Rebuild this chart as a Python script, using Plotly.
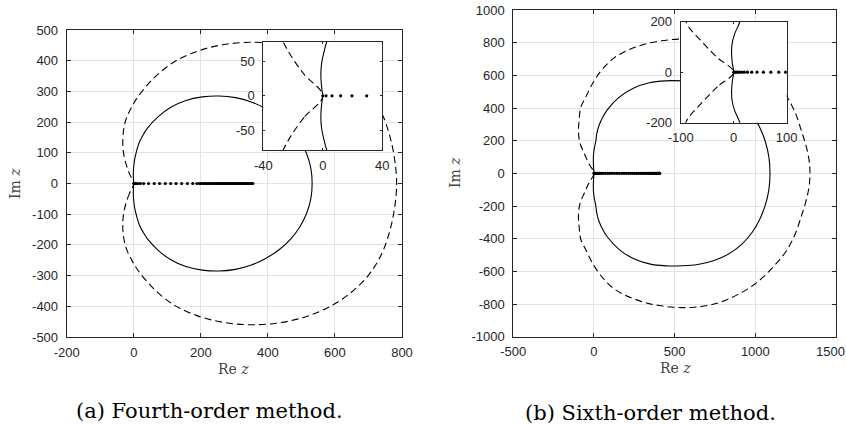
import plotly.graph_objects as go

# ---------------- data ----------------
# (a) Fourth-order method -- solid boundary, upper half (origin -> right end on real axis)
a_sol_up_x = [0, -0.6, -1.1, -1.3, -0.8, 0.6, 2.6, 5.0, 10.2, 17.6, 27.9, 40.3, 72.1, 110.5, 155.5,
              204.3, 254, 303.3, 350.6, 394.5, 434.3, 468.5, 496.0, 516.2, 528.3, 532]
a_sol_up_y = [0, 9, 20, 33, 47, 62, 78, 90.6, 113.7, 136.5, 158.3, 179.3, 216.8, 248.5, 270.6,
              282.1, 285, 279.7, 265.5, 243.3, 214.9, 180.0, 139.8, 95.4, 48.4, 0]
# solid boundary, lower half
a_sol_lo_x = [0, -0.6, -1.1, -1.3, -0.8, 0.6, 2.6, 5.0, 10.2, 17.6, 27.9, 40.3, 72.1, 110.5, 155.5,
              204.3, 254, 303.3, 350.6, 394.5, 434.3, 468.5, 496.0, 516.2, 528.3, 532]
a_sol_lo_y = [0, -9, -20, -33, -47, -62, -78, -90.6, -113.7, -136.5, -158.3, -179.3, -216.8, -248.5, -270.6,
              -282.1, -285, -279.7, -265.5, -243.3, -214.9, -180.0, -139.8, -95.4, -48.4, 0]
# dashed boundary, upper half
a_das_up_x = [0, -12.6, -23.3, -30.7, -32.8, -30.2, -22.2, -7.3, 11.0, 58.3, 117.5, 188.4, 265.3, 345,
              425.2, 504.0, 578.5, 645.2, 700.4, 739.9, 764.1, 778.3, 784]
a_das_up_y = [0, 31.3, 64.9, 100.7, 137.5, 175.0, 212.0, 246.6, 280.3, 341.6, 394.0, 430.4, 452.0, 460,
              455.0, 437.0, 404.4, 357.7, 298.3, 228.0, 152.5, 76.4, 0]
# dashed boundary, lower half
a_das_lo_x = [0, -12.6, -23.3, -30.7, -32.8, -30.2, -22.2, -7.3, 11.0, 58.3, 117.5, 188.4, 265.3, 345,
              425.2, 504.0, 578.5, 645.2, 700.4, 739.9, 764.1, 778.3, 784]
a_das_lo_y = [0, -31.3, -64.9, -100.7, -137.5, -175.0, -212.0, -246.6, -280.3, -341.6, -394.0, -430.4, -452.0, -460,
              -455.0, -437.0, -404.4, -357.7, -298.3, -228.0, -152.5, -76.4, 0]
# eigenvalues on the real axis
a_eig = [0, 2.2, 6.2, 12, 19.6, 29.5, 44, 61, 77, 94, 110, 126, 143, 160, 176, 188, 196, 201, 206,
         211, 216, 220, 225, 229, 234, 238, 242, 247, 251, 255, 259, 263, 267, 271, 275, 279, 283,
         287, 291, 295, 299, 303, 307, 311, 315, 319, 323, 327, 331, 335, 339, 343, 347, 351, 355]

# (b) Sixth-order method -- solid boundary
b_sol_up_x = [0, -2.6, -4.0, -3.2, 1.5, 11, 18, 32.3, 54.3, 82.3, 154.8, 244.0, 343.2, 445.2, 545,
              643.4, 739.9, 831.0, 912.0, 978.6, 1028.2, 1063.7, 1084.7, 1091]
b_sol_up_y = [0, 36, 75, 110, 150, 196, 246, 296, 343.6, 388.3, 465.0, 521.3, 554.4, 566.3, 566,
              558.4, 535.6, 495.4, 437.4, 363.8, 279.0, 188.8, 95.1, 0]
b_sol_lo_x = [0, -2.6, -4.0, -3.2, 1.5, 11, 18, 32.3, 54.3, 82.3, 154.8, 244.0, 343.2, 445.2, 545,
              643.4, 739.9, 831.0, 912.0, 978.6, 1028.2, 1063.7, 1084.7, 1091]
b_sol_lo_y = [0, -36, -75, -110, -150, -196, -246, -296, -343.6, -388.3, -465.0, -521.3, -554.4, -566.3, -566,
              -558.4, -535.6, -495.4, -437.4, -363.8, -279.0, -188.8, -95.1, 0]
# dashed boundary
b_das_up_x = [0, -30.5, -59.5, -88.0, -96.1, -91.4, -81.5, -50.1, -17.3, 21.8, 69.1, 125.0, 190.0, 259.5,
              330.7, 403.1, 475.7, 548.1, 620, 691.0, 760.3, 826.8, 890.2, 950.5, 1007.0, 1058.2, 1105.3,
              1149.6, 1189.9, 1222.9, 1250.4, 1271.6, 1291.0, 1309.7, 1325.1, 1335.3, 1339]
b_das_up_y = [0, 56.9, 119.8, 189.7, 260.6, 331.7, 405.0, 469.2, 534.8, 598.2, 656.5, 707.0, 744.8, 773.1,
              795.0, 809.4, 818.4, 821.9, 820, 810.9, 795.7, 771.8, 742.4, 708.7, 670.3, 625.8, 578.3,
              529.6, 478.2, 422.2, 364.0, 303.9, 244.2, 184.8, 124.3, 62.6, 0]
b_das_lo_x = [0, -30.5, -59.5, -88.0, -96.1, -91.4, -81.5, -50.1, -17.3, 21.8, 69.1, 125.0, 190.0, 259.5,
              330.7, 403.1, 475.7, 548.1, 620, 691.0, 760.3, 826.8, 890.2, 950.5, 1007.0, 1058.2, 1105.3,
              1149.6, 1189.9, 1222.9, 1250.4, 1271.6, 1291.0, 1309.7, 1325.1, 1335.3, 1339]
b_das_lo_y = [0, -56.9, -119.8, -189.7, -260.6, -331.7, -405.0, -469.2, -534.8, -598.2, -656.5, -707.0, -744.8, -773.1,
              -795.0, -809.4, -818.4, -821.9, -820, -810.9, -795.7, -771.8, -742.4, -708.7, -670.3, -625.8, -578.3,
              -529.6, -478.2, -422.2, -364.0, -303.9, -244.2, -184.8, -124.3, -62.6, 0]
b_eig = [0, 2, 4.5, 7.5, 11, 15, 20, 26, 34, 44, 56, 70, 85, 98, 112, 127, 142, 157, 172, 186, 200,
         214, 227, 240, 253, 265, 277, 288, 299, 309, 319, 328, 337, 345, 353, 360, 366, 372, 378,
         383, 388, 392, 396, 399, 402, 404, 406, 407]

# tick values / labels
a_xt = [-200, 0, 200, 400, 600, 800]
a_xl = ["-200", "0", "200", "400", "600", "800"]
a_yt = [-500, -400, -300, -200, -100, 0, 100, 200, 300, 400, 500]
a_yl = ["-500", "-400", "-300", "-200", "-100", "0", "100", "200", "300", "400", "500"]
ai_xt = [-40, 0, 40]
ai_xl = ["-40", "0", "40"]
ai_yt = [-50, 0, 50]
ai_yl = ["-50", "0", "50"]
b_xt = [-500, 0, 500, 1000, 1500]
b_xl = ["-500", "0", "500", "1000", "1500"]
b_yt = [-1000, -800, -600, -400, -200, 0, 200, 400, 600, 800, 1000]
b_yl = ["-1000", "-800", "-600", "-400", "-200", "0", "200", "400", "600", "800", "1000"]
bi_xt = [-100, 0, 100]
bi_xl = ["-100", "0", "100"]
bi_yt = [-200, 0, 200]
bi_yl = ["-200", "0", "200"]

captions = ["(a) Fourth-order method.", "(b) Sixth-order method."]

# ---------------- figure ----------------
W, H = 846, 425
fig = go.Figure()


def closed(lo_x, lo_y, up_x, up_y):
    # lower half from origin to right end, then upper half back to origin (keeps cusp at 0)
    return list(lo_x) + list(up_x[::-1][1:]), list(lo_y) + list(up_y[::-1][1:])


def add_panel(xa, ya, sol, das, eig, msize):
    sx, sy = sol
    dx, dy = das
    fig.add_trace(go.Scatter(x=dx, y=dy, mode="lines", xaxis=xa, yaxis=ya,
                             line=dict(color="black", width=1.1, dash="7px,4px", shape="spline", smoothing=1),
                             hoverinfo="skip", showlegend=False))
    fig.add_trace(go.Scatter(x=sx, y=sy, mode="lines", xaxis=xa, yaxis=ya,
                             line=dict(color="black", width=1.1, shape="spline", smoothing=1),
                             hoverinfo="skip", showlegend=False))
    fig.add_trace(go.Scatter(x=eig, y=[0] * len(eig), mode="markers", xaxis=xa, yaxis=ya,
                             marker=dict(color="black", size=msize, line=dict(width=0)),
                             hoverinfo="skip", showlegend=False))


a_sol = closed(a_sol_lo_x, a_sol_lo_y, a_sol_up_x, a_sol_up_y)
a_das = closed(a_das_lo_x, a_das_lo_y, a_das_up_x, a_das_up_y)
b_sol = closed(b_sol_lo_x, b_sol_lo_y, b_sol_up_x, b_sol_up_y)
b_das = closed(b_das_lo_x, b_das_lo_y, b_das_up_x, b_das_up_y)

add_panel("x", "y", a_sol, a_das, a_eig, 3.2)
add_panel("x2", "y2", a_sol, a_das, a_eig, 3.2)
add_panel("x3", "y3", b_sol, b_das, b_eig, 3.2)
add_panel("x4", "y4", b_sol, b_das, b_eig, 3.2)

AX = "#262626"
GRID = "#e3e3e3"
TICKFONT = dict(family="Liberation Sans, Arial, sans-serif", size=13, color=AX)


def px_dom(a, b, total, flip=False):
    if flip:
        return [1 - b / total, 1 - a / total]
    return [a / total, b / total]


def axis(dom, rng, tv, tl, grid, ticklen, anchor, standoff):
    return dict(domain=dom, range=rng, tickvals=tv, ticktext=tl, showgrid=grid, gridcolor=GRID,
                gridwidth=1, zeroline=False, showline=True, linecolor=AX, linewidth=1, mirror="allticks",
                ticks="inside", ticklen=ticklen, tickwidth=1, tickcolor=AX, tickfont=TICKFONT,
                anchor=anchor, fixedrange=True, automargin=False, ticklabelstandoff=standoff,
                ticklabeloverflow="allow")


# the last x tick label of panel (b) sits at the page edge: draw it as a right-aligned text instead
b_xl_axis = b_xl[:-1] + [""]

fig.update_layout(
    width=W, height=H, margin=dict(l=0, r=0, t=0, b=0, pad=0),
    paper_bgcolor="white", plot_bgcolor="white", showlegend=False,
    xaxis=axis(px_dom(66.7, 402, W), [-200, 800], a_xt, a_xl, True, 4, "y", 3),
    yaxis=axis(px_dom(30, 337, H, True), [-500, 500], a_yt, a_yl, True, 4, "x", 5),
    xaxis2=axis(px_dom(263.3, 382.3, W), [-40, 40], ai_xt, ai_xl, False, 2, "y2", 3),
    yaxis2=axis(px_dom(41.7, 150, H, True), [-78.5, 78.5], ai_yt, ai_yl, False, 2, "x2", 5),
    xaxis3=axis(px_dom(513.3, 836, W), [-500, 1500], b_xt, b_xl_axis, True, 4, "y3", 3),
    yaxis3=axis(px_dom(10, 336.7, H, True), [-1000, 1000], b_yt, b_yl, True, 4, "x3", 5),
    xaxis4=axis(px_dom(680.7, 786.7, W), [-100, 100], bi_xt, bi_xl, False, 2, "y4", 3),
    yaxis4=axis(px_dom(21.7, 122.7, H, True), [-200, 200], bi_yt, bi_yl, False, 2, "x4", 5),
)

SERIF = "DejaVu Serif, Liberation Serif, serif"
ann = []


def label(text, xpx, ypx, size, color, angle=0, family=SERIF, xanchor="center"):
    ann.append(dict(text=text, x=xpx / W, y=1 - ypx / H, xref="paper", yref="paper",
                    xanchor=xanchor, yanchor="middle", showarrow=False, textangle=angle,
                    borderpad=0, font=dict(family=family, size=size, color=color)))


label(b_xl[-1], 845.5, 351.5, 13, AX, family=TICKFONT["family"], xanchor="right")
label("Re <i>z</i>", 233, 369, 14, "#444444")
label("Re <i>z</i>", 675, 368, 14, "#444444")
label("Im <i>z</i>", 15, 184, 14, "#444444", -90)
label("Im <i>z</i>", 455, 173, 14, "#444444", -90)
label(captions[0], 209, 411, 21, "black")
label(captions[1], 650, 413, 21, "black")
fig.update_layout(annotations=ann)

fig.write_html("out.html")
